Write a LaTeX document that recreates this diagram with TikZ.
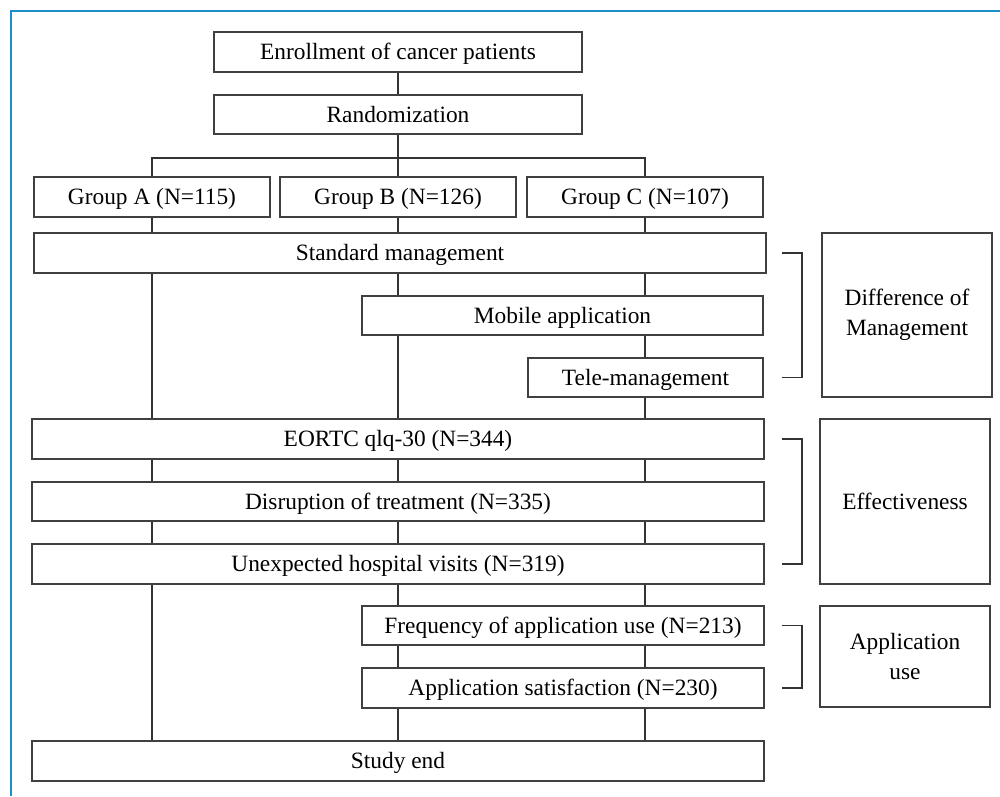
\documentclass[tikz,border=0pt]{standalone}
\usepackage{fontspec}
\setmainfont{Liberation Serif}
\usetikzlibrary{backgrounds}
\definecolor{framecol}{RGB}{30,142,200}
\begin{document}
\begin{tikzpicture}[x=0.02cm, y=-0.02cm,
    box/.style={draw=black!75, fill=white, line width=0.7pt, inner sep=0pt,
      minimum height=0.8cm, align=center, font=\fontsize{13.3}{17}\selectfont},
    onerow/.style={box, text height=0.9em, text depth=0em},
    link/.style={draw=black!80, line width=0.6pt}]
  \useasboundingbox (0,0) rectangle (1000,796);
  \draw[framecol, line width=1.4pt] (11,796) -- (11,11) -- (1000,11);

  \node[onerow, minimum width=7.36cm] (enroll) at (398,52) {Enrollment of cancer patients};
  \node[onerow, minimum width=7.36cm, minimum height=0.78cm] (rand) at (398,114.5) {Randomization};

  \node[onerow, minimum width=4.72cm] (ga) at (152,197) {Group A (N=115)};
  \node[onerow, minimum width=4.72cm] (gb) at (398,197) {Group B (N=126)};
  \node[onerow, minimum width=4.72cm] (gc) at (645,197) {Group C (N=107)};

  \node[onerow, minimum width=14.64cm] (std) at (400,253) {Standard management};
  \node[onerow, minimum width=8.02cm, minimum height=0.78cm] (mobile) at (562.5,315.5) {Mobile application};
  \node[onerow, minimum width=4.7cm, minimum height=0.78cm] (tele) at (645.5,377.5) {Tele-management};

  \node[onerow, minimum width=14.64cm] (eortc) at (398,439) {EORTC qlq-30 (N=344)};
  \node[onerow, minimum width=14.64cm, minimum height=0.78cm] (disrupt) at (398,501.5) {Disruption of treatment (N=335)};
  \node[onerow, minimum width=14.64cm] (visits) at (398,564) {Unexpected hospital visits (N=319)};

  \node[onerow, minimum width=8.04cm, minimum height=0.78cm] (freq) at (563,625.5) {Frequency of application use (N=213)};
  \node[onerow, minimum width=8.04cm] (satis) at (563,688) {Application satisfaction (N=230)};

  \node[onerow, minimum width=14.64cm] (stend) at (398,761) {Study end};

  \node[box, minimum width=3.4cm, minimum height=3.28cm] (diff) at (907,315) {Difference of\\Management};
  \node[onerow, minimum width=3.4cm, minimum height=3.3cm] (effect) at (905,501.5) {Effectiveness};
  \node[box, minimum width=3.4cm, minimum height=2.02cm] (appuse) at (905,656.5) {Application\\use};

  % brackets
  \coordinate (bl) at (782,0);
  \coordinate (br) at (802,0);
  \draw[link] (bl |- std) -| (br |- tele) -- (bl |- tele);
  \draw[link] (bl |- eortc) -| (br |- visits) -- (bl |- visits);
  \draw[link] (bl |- freq) -| (br |- satis) -- (bl |- satis);

  \begin{scope}[on background layer]
    \coordinate (split) at (398,158);
    \draw[link] (enroll) -- (rand);
    \draw[link] (rand) -- (split);
    \draw[link] (ga.north) |- (split) -| (gc.north);
    \draw[link] (gb.north) -- (split);
    \draw[link] (ga.south) -- (ga.south |- stend.north);
    \draw[link] (gb.south) -- (gb.south |- stend.north);
    \draw[link] (gc.south) -- (gc.south |- stend.north);
  \end{scope}
\end{tikzpicture}
\end{document}
